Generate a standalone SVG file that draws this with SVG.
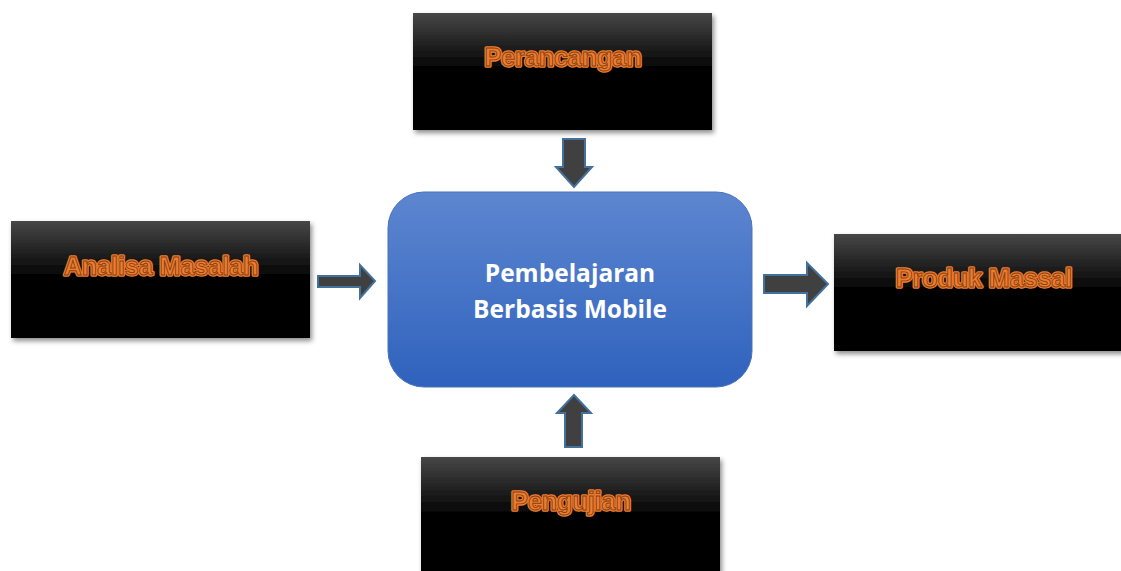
<svg xmlns="http://www.w3.org/2000/svg" width="1121" height="571" viewBox="0 0 1121 571">
<defs>
<linearGradient id="boxGrad" x1="0" y1="0" x2="0" y2="1">
<stop offset="0" stop-color="#474747"/>
<stop offset="0.5" stop-color="#000"/>
<stop offset="1" stop-color="#000"/>
</linearGradient>
<linearGradient id="blueGrad" x1="0" y1="0" x2="0" y2="1">
<stop offset="0" stop-color="#5d86d0"/>
<stop offset="1" stop-color="#2f62bd"/>
</linearGradient>
<filter id="shadow" x="-10%" y="-10%" width="125%" height="130%">
<feDropShadow dx="2" dy="3" stdDeviation="2.5" flood-color="#000" flood-opacity="0.45"/>
</filter>
<style>
.box{fill:url(#boxGrad);filter:url(#shadow);}
.lbl{font-family:"Liberation Sans",Arial,sans-serif;font-weight:bold;font-size:25px;text-anchor:middle;}
.lblOut{fill:#ed7d31;stroke:#ed7d31;stroke-width:3.5;stroke-linejoin:round;}
.lblIn{fill:#ed7d31;stroke:#8a4010;stroke-width:0.9;}
.arrow{fill:#404040;stroke:#41719c;stroke-width:2;stroke-linejoin:miter;}
.center{font-family:"Open Sans","Liberation Sans",sans-serif;font-weight:bold;font-size:24.5px;fill:#fff;text-anchor:middle;}
</style>
</defs>

<g id="node-perancangan">
<rect class="box" x="413" y="13" width="299" height="117"/>
<text class="lbl lblOut" x="563" y="66">Perancangan</text>
<text class="lbl lblIn" x="563" y="66">Perancangan</text>
</g>

<g id="node-analisa">
<rect class="box" x="11" y="221" width="299" height="117"/>
<text class="lbl lblOut" x="161" y="275">Analisa Masalah</text>
<text class="lbl lblIn" x="161" y="275">Analisa Masalah</text>
</g>

<g id="node-produk">
<rect class="box" x="834" y="234" width="290" height="117"/>
<text class="lbl lblOut" x="984" y="287">Produk Massal</text>
<text class="lbl lblIn" x="984" y="287">Produk Massal</text>
</g>

<g id="node-pengujian">
<rect class="box" x="421" y="457" width="299" height="120"/>
<text class="lbl lblOut" x="571" y="510">Pengujian</text>
<text class="lbl lblIn" x="571" y="510">Pengujian</text>
</g>

<g id="node-center">
<rect x="388" y="192" width="364" height="195" rx="36" ry="36" fill="url(#blueGrad)" stroke="#4a72b8" stroke-width="1"/>
<text class="center" x="570" y="282">Pembelajaran</text>
<text class="center" x="570" y="318">Berbasis Mobile</text>
</g>

<g id="connectors">
<polygon class="arrow" points="563,139 585,139 585,167 592,167 574,187 556,167 563,167"/>
<polygon class="arrow" points="318,276 360,276 360,265 375,281 360,298 360,287 318,287"/>
<polygon class="arrow" points="764,275 807,275 807,263 828,284 807,306 807,293 764,293"/>
<polygon class="arrow" points="565,447 582,447 582,413 591,413 574,395 557,413 565,413"/>
</g>
</svg>
